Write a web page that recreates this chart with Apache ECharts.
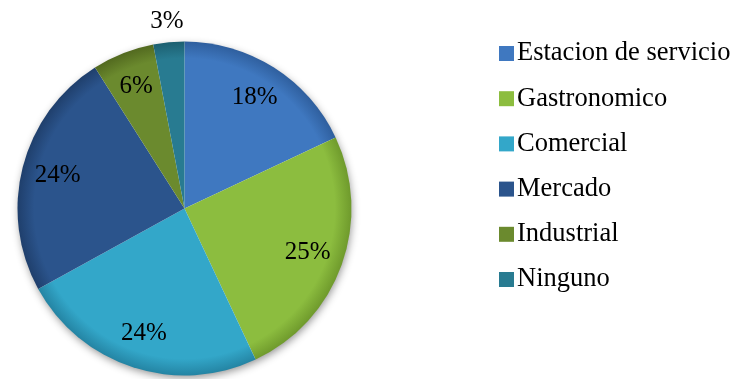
<!DOCTYPE html>
<html>
<head>
<meta charset="utf-8">
<script src="https://cdn.jsdelivr.net/npm/echarts@6/dist/echarts.min.js"></script>
<style>
  html, body { margin: 0; padding: 0; background: #ffffff; }
  #chart { width: 734px; height: 379px; }
</style>
</head>
<body>
<div id="chart"></div>
<script>
// Sectors and their shares (percent)
const categories = ['Estacion de servicio', 'Gastronomico', 'Comercial', 'Mercado', 'Industrial', 'Ninguno'];
const shares = [18, 25, 24, 24, 6, 3];

// Fill colours (base, rim shade) for each sector
const palette = ['#3f78c0', '#8cbd3f', '#33a7c9', '#2b548c', '#6b8a2e', '#287b91'];
const rimShade = ['#2f5f9e', '#6f9a2c', '#2484a3', '#1f3f6c', '#52691f', '#1c5f70'];

const CX = 184.5, CY = 208.5, R = 167;
const FONT = "'Liberation Serif', 'Times New Roman', serif";

function sectorFill(i) {
  return {
    type: 'radial', x: CX, y: CY, r: R, global: true,
    colorStops: [
      { offset: 0, color: palette[i] },
      { offset: 0.9, color: palette[i] },
      { offset: 1, color: rimShade[i] }
    ]
  };
}

const pieData = categories.map((name, i) => ({
  name: name,
  value: shares[i],
  itemStyle: { color: sectorFill(i) }
}));

// Transparent copies of the data, used only to place the percentage labels
function labelData(showIndex) {
  return categories.map((name, i) => ({
    name: name,
    value: shares[i],
    label: { show: showIndex(i) }
  }));
}

const labelStyle = {
  position: 'inside',
  formatter: '{c}%',
  color: '#000000',
  fontFamily: FONT,
  fontSize: 25
};

const chart = echarts.init(document.getElementById('chart'), null, { renderer: 'canvas' });
chart.setOption({
  animation: false,
  backgroundColor: '#ffffff',
  color: palette,
  legend: {
    data: categories.map((name, i) => ({ name: name, itemStyle: { color: palette[i] } })),
    orient: 'vertical',
    left: 494,
    top: 35,
    icon: 'rect',
    itemWidth: 15,
    itemHeight: 15,
    itemGap: 18.2,
    textStyle: { fontFamily: FONT, fontSize: 26.5, color: '#000000', padding: [0, 0, 0, -2] },
    selectedMode: false
  },
  series: [
    {
      // soft drop shadow beneath the pie
      type: 'pie',
      silent: true,
      center: [CX, CY],
      radius: [0, R - 1],
      label: { show: false },
      labelLine: { show: false },
      itemStyle: {
        color: '#ffffff',
        shadowBlur: 8,
        shadowColor: 'rgba(0,0,0,0.45)',
        shadowOffsetX: 1,
        shadowOffsetY: 3
      },
      data: [{ name: '', value: 1 }]
    },
    {
      type: 'pie',
      center: [CX, CY],
      radius: [0, R],
      startAngle: 90,
      clockwise: true,
      silent: true,
      label: { show: false },
      labelLine: { show: false },
      itemStyle: { borderWidth: 0 },
      data: pieData
    },
    {
      // inner percentage labels
      type: 'pie',
      silent: true,
      center: [CX, CY],
      radius: [0, 256],
      startAngle: 90,
      itemStyle: { color: 'rgba(0,0,0,0)' },
      label: labelStyle,
      labelLine: { show: false },
      data: labelData(i => i < 5)
    },
    {
      // label for the thin top sector, just outside the rim
      type: 'pie',
      silent: true,
      center: [CX, CY],
      radius: [0, 370],
      startAngle: 90,
      itemStyle: { color: 'rgba(0,0,0,0)' },
      label: labelStyle,
      labelLine: { show: false },
      data: labelData(i => i === 5)
    }
  ]
});
</script>
</body>
</html>
